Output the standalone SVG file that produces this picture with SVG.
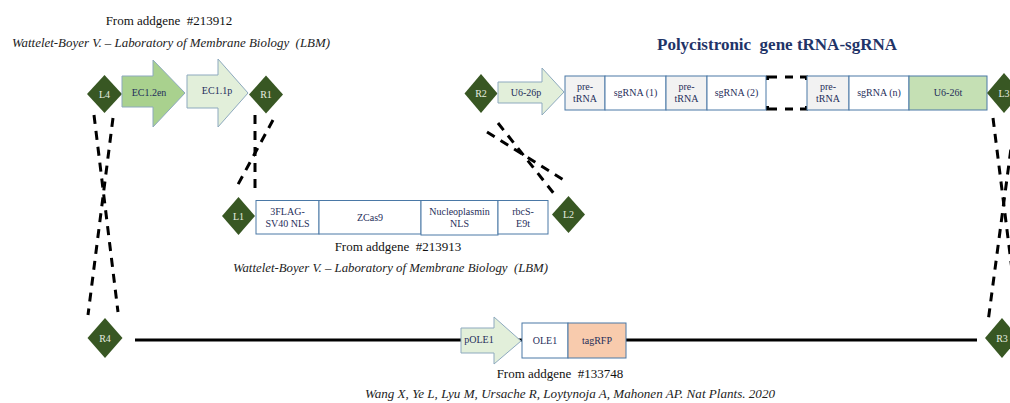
<svg xmlns="http://www.w3.org/2000/svg" width="1010" height="403" viewBox="0 0 1010 403">
<style>
text{white-space:pre;}
.dia{fill:#385723;}
.dl{font-family:"Liberation Serif",serif;font-size:10px;fill:#E6EDE0;text-anchor:middle;}
.box{stroke:#4A78A6;stroke-width:1;}
.arr{stroke:#8DA9BE;stroke-width:1;}
.bt{font-family:"Liberation Serif",serif;font-size:10px;fill:#1F2E5A;text-anchor:middle;}
.src{font-family:"Liberation Serif",serif;font-size:13px;fill:#111;text-anchor:middle;}
.cit{font-family:"Liberation Serif",serif;font-size:12px;font-style:italic;fill:#222;}
.dash{stroke:#000;stroke-width:3;stroke-dasharray:9 7;fill:none;}
.gap{stroke:#000;stroke-width:3;stroke-dasharray:12.5 8 8 7 9.5;fill:none;}
</style>

<text class="src" x="169" y="25" xml:space="preserve">From addgene  #213912</text>
<text class="cit" x="12" y="47" textLength="318" lengthAdjust="spacingAndGlyphs" xml:space="preserve">Wattelet-Boyer V. – Laboratory of Membrane Biology  (LBM)</text>
<text class="src" x="398" y="251" xml:space="preserve">From addgene  #213913</text>
<text class="cit" x="233" y="272" textLength="315" lengthAdjust="spacingAndGlyphs" xml:space="preserve">Wattelet-Boyer V. – Laboratory of Membrane Biology  (LBM)</text>
<text class="src" x="560" y="378" xml:space="preserve">From addgene  #133748</text>
<text class="cit" x="365" y="398" textLength="410" lengthAdjust="spacingAndGlyphs">Wang X, Ye L, Lyu M, Ursache R, Loytynoja A, Mahonen AP. Nat Plants. 2020</text>
<text x="657" y="50" textLength="240" lengthAdjust="spacingAndGlyphs" xml:space="preserve" style="font-family:'Liberation Serif',serif;font-size:16px;font-weight:bold;fill:#1F3468;">Polycistronic  gene tRNA-sgRNA</text>

<g id="connectors">
<line x1="135" y1="340" x2="977" y2="340" stroke="#000" stroke-width="3"/>
<line class="dash" x1="94" y1="115" x2="118" y2="312"/>
<line class="dash" x1="113" y1="118" x2="88" y2="315"/>
<line class="dash" x1="255" y1="115" x2="255" y2="195"/>
<line class="dash" x1="273" y1="120" x2="235" y2="190"/>
<line class="dash" x1="487" y1="132" x2="567" y2="182"/>
<line class="dash" x1="498" y1="123" x2="555" y2="195"/>
<line class="dash" x1="993" y1="118" x2="1018" y2="318"/>
<line class="dash" x1="1015" y1="118" x2="988" y2="322"/>
<path class="gap" d="M767.5,80 V77 H806.5 V80"/>
<path class="gap" d="M767.5,106 V109 H806.5 V106"/>
</g>

<g id="L4"><polygon class="dia" points="104.5,75 122,94 104.5,113 87,94"/><text class="dl" x="104.5" y="97.5">L4</text></g>
<g id="EC1.2en"><polygon class="arr" fill="#A9D18E" points="122,76 153,76 153,60 185,93 153,127 153,107 122,107"/><text class="bt" x="149" y="96">EC1.2en</text></g>
<g id="EC1.1p"><polygon class="arr" fill="#E2EFDA" points="187,75 218,75 218,59 248,93 218,127 218,108 187,108"/><text class="bt" x="217" y="94">EC1.1p</text></g>
<g id="R1"><polygon class="dia" points="266,75.5 283,94.5 266,113.5 249,94.5"/><text class="dl" x="266" y="98">R1</text></g>

<g id="L1"><polygon class="dia" points="238.5,197 255,216 238.5,235 222,216"/><text class="dl" x="238.5" y="219.5">L1</text></g>
<g id="3FLAG-SV40NLS"><rect class="box" fill="#fff" x="256" y="200.5" width="63" height="33.5"/><text class="bt" x="287.5" y="214.5">3FLAG-</text><text class="bt" x="287.5" y="226.5">SV40 NLS</text></g>
<g id="ZCas9"><rect class="box" fill="#fff" x="319" y="200.5" width="102" height="33.5"/><text class="bt" x="370" y="221">ZCas9</text></g>
<g id="NucleoplasminNLS"><rect class="box" fill="#fff" x="421" y="200.5" width="77" height="34.5"/><text class="bt" x="459.5" y="214.5">Nucleoplasmin</text><text class="bt" x="459.5" y="226.5">NLS</text></g>
<g id="rbcS-E9t"><rect class="box" fill="#fff" x="498" y="200.5" width="50" height="33.5"/><text class="bt" x="523" y="214.5">rbcS-</text><text class="bt" x="523" y="226.5">E9t</text></g>
<g id="L2"><polygon class="dia" points="568.5,196 585,214.5 568.5,233 552,214.5"/><text class="dl" x="568.5" y="218">L2</text></g>

<g id="R2"><polygon class="dia" points="481,74 497.5,93.5 481,113 464.5,93.5"/><text class="dl" x="481" y="97">R2</text></g>
<g id="U6-26p"><polygon class="arr" fill="#E2EFDA" points="498,82 542,82 542,68 564,92 542,115 542,103 498,103"/><text class="bt" x="526" y="96">U6-26p</text></g>
<g id="pre-tRNA-1"><rect class="box" fill="#F2F2F2" x="565" y="76" width="40" height="34"/><text class="bt" x="585" y="90">pre-</text><text class="bt" x="585" y="101.5">tRNA</text></g>
<g id="sgRNA-1"><rect class="box" fill="#fff" x="605" y="76" width="61" height="34"/><text class="bt" x="635.5" y="96">sgRNA (1)</text></g>
<g id="pre-tRNA-2"><rect class="box" fill="#F2F2F2" x="666" y="76" width="41" height="34"/><text class="bt" x="686.5" y="90">pre-</text><text class="bt" x="686.5" y="101.5">tRNA</text></g>
<g id="sgRNA-2"><rect class="box" fill="#fff" x="707" y="76" width="59" height="34"/><text class="bt" x="736.5" y="96">sgRNA (2)</text></g>
<g id="pre-tRNA-n"><rect class="box" fill="#F2F2F2" x="807" y="76" width="42" height="34"/><text class="bt" x="828" y="90">pre-</text><text class="bt" x="828" y="101.5">tRNA</text></g>
<g id="sgRNA-n"><rect class="box" fill="#fff" x="849" y="76" width="60" height="34"/><text class="bt" x="879" y="96">sgRNA (n)</text></g>
<g id="U6-26t"><rect class="box" fill="#C5E0B4" x="909" y="76" width="78" height="34"/><text class="bt" x="948" y="96">U6-26t</text></g>
<g id="L3"><polygon class="dia" points="1004,73 1021,93 1004,113 987,93"/><text class="dl" x="1004" y="96.5">L3</text></g>

<g id="R4"><polygon class="dia" points="105,318 122.5,338 105,358 87.5,338"/><text class="dl" x="105" y="341.5">R4</text></g>
<g id="pOLE1"><polygon class="arr" fill="#E2EFDA" points="461,328 494,328 494,317 521,341 494,364 494,353 461,353"/><text class="bt" x="479" y="343">pOLE1</text></g>
<g id="OLE1"><rect class="box" fill="#fff" x="522" y="323" width="46" height="35"/><text class="bt" x="545" y="344">OLE1</text></g>
<g id="tagRFP"><rect class="box" fill="#F8CBAD" x="568" y="323" width="58" height="35"/><text class="bt" x="597" y="344">tagRFP</text></g>
<g id="R3"><polygon class="dia" points="1002,318 1019,338 1002,358 985,338"/><text class="dl" x="1002" y="341.5">R3</text></g>
</svg>
